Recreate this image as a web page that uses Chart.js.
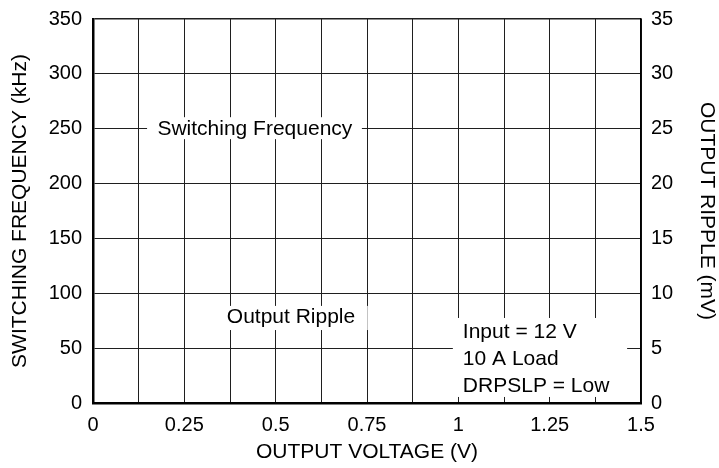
<!DOCTYPE html>
<html>
<head>
<meta charset="utf-8">
<script src="https://cdn.jsdelivr.net/npm/chart.js@4/dist/chart.umd.min.js"></script>
<style>
  html, body { margin: 0; padding: 0; background: #fff; }
  canvas { display: block; }
</style>
</head>
<body>
<canvas id="chart" width="719" height="468"></canvas>
<script>
// tick labels
const voltageTicks = [0, 0.25, 0.5, 0.75, 1, 1.25, 1.5];
const freqTicks = [0, 50, 100, 150, 200, 250, 300, 350];
const rippleTicks = [0, 5, 10, 15, 20, 25, 30, 35];

// series (the curves are not drawn in the source figure)
const outputVoltage = [];
const switchingFreq = [];
const outputRipple = [];

const FONT = "'Liberation Sans', Arial, Helvetica, sans-serif";
const GRID = '#1f1f1f';

// labels on white boxes that cut the grid
const notes = [
  { lines: ['Switching Frequency'], x: 0.443, y: 250, align: 'center', size: 21, box: [0.148, 260.5, 0.736, 240.5] },
  { lines: ['Output Ripple'], x: 0.542, y: 78, align: 'center', size: 21, box: [0.347, 88.5, 0.752, 66.5] },
  { lines: ['Input = 12 V', '10 A Load', 'DRPSLP = Low'], x: 1.0, y: 65, align: 'left', size: 21, lineGap: 27, box: [0.985, 77.5, 1.462, 5.5] },
];

const notesPlugin = {
  id: 'notes',
  afterDraw(chart) {
    const { ctx, scales: { x, y } } = chart;
    ctx.save();
    notes.forEach(n => {
      const [x0, y0, x1, y1] = n.box;
      const l = x.getPixelForValue(x0), r = x.getPixelForValue(x1);
      const t = y.getPixelForValue(y0), b = y.getPixelForValue(y1);
      ctx.fillStyle = '#fff';
      ctx.fillRect(l, t, r - l, b - t);
      ctx.fillStyle = '#000';
      ctx.font = n.size + 'px ' + FONT;
      ctx.textAlign = n.align;
      ctx.textBaseline = 'middle';
      const px = n.align === 'left' ? l + 10 : x.getPixelForValue(n.x);
      const py = n.lines.length > 1 ? t + 14 : y.getPixelForValue(n.y);
      n.lines.forEach((s, i) => ctx.fillText(s, px, py + i * (n.lineGap || 0)));
    });
    ctx.restore();
  }
};

const series = (label, data, axis) => ({
  label,
  data: outputVoltage.map((v, i) => ({ x: v, y: data[i] })),
  yAxisID: axis,
  borderColor: '#000',
  borderWidth: 2,
  pointRadius: 0,
  fill: false,
});

// fixed scale boxes so the plot area sits where the original does
const fitV = w => s => { s.width = w; s.paddingTop = 0; s.paddingBottom = 0; };

new Chart(document.getElementById('chart'), {
  type: 'line',
  data: {
    datasets: [
      series('Switching Frequency', switchingFreq, 'y'),
      series('Output Ripple', outputRipple, 'y2'),
    ],
  },
  plugins: [notesPlugin],
  options: {
    responsive: false,
    animation: false,
    layout: { padding: { top: 19, left: 0, right: 0, bottom: 0 } },
    plugins: { legend: { display: false }, tooltip: { enabled: false } },
    scales: {
      x: {
        type: 'linear',
        min: 0,
        max: 1.5,
        afterFit: s => { s.height = 65; s.paddingLeft = 0; s.paddingRight = 0; },
        afterBuildTicks: s => {
          s.ticks = [];
          for (let i = 0; i <= 12; i++) s.ticks.push({ value: i * 0.125 });
        },
        ticks: {
          autoSkip: false,
          maxRotation: 0,
          padding: 10,
          color: '#000',
          font: { family: FONT, size: 20 },
          callback: v => {
            const hit = voltageTicks.find(t => Math.abs(t - v) < 1e-6);
            return hit === undefined ? '' : String(hit);
          },
        },
        grid: { color: GRID, lineWidth: 1, drawTicks: false },
        border: { display: true, color: '#000', width: 2.5 },
        title: {
          display: true,
          text: 'OUTPUT VOLTAGE (V)',
          color: '#000',
          font: { family: FONT, size: 21 },
          padding: { top: 0, bottom: 3 },
        },
      },
      y: {
        position: 'left',
        min: 0,
        max: 350,
        afterFit: fitV(93),
        afterBuildTicks: s => { s.ticks = freqTicks.map(v => ({ value: v })); },
        ticks: {
          padding: 11,
          color: '#000',
          font: { family: FONT, size: 20 },
        },
        grid: {
          color: GRID,
          lineWidth: c => (c.tick && c.tick.value === 350 ? 1.6 : 1),
          drawTicks: false,
        },
        border: { display: true, color: '#000', width: 2.5 },
        title: {
          display: true,
          text: 'SWITCHING FREQUENCY (kHz)',
          color: '#000',
          font: { family: FONT, size: 21 },
          padding: { top: 8, bottom: 0 },
        },
      },
      y2: {
        position: 'right',
        min: 0,
        max: 35,
        afterFit: fitV(78),
        afterBuildTicks: s => { s.ticks = rippleTicks.map(v => ({ value: v })); },
        ticks: {
          padding: 10,
          color: '#000',
          font: { family: FONT, size: 20 },
        },
        grid: { drawOnChartArea: false, drawTicks: false },
        border: { display: true, color: '#000', width: 1.6 },
        title: {
          display: true,
          text: 'OUTPUT RIPPLE (mV)',
          color: '#000',
          font: { family: FONT, size: 21 },
          padding: { top: 0, bottom: 0 },
        },
      },
    },
  },
});
</script>
</body>
</html>
